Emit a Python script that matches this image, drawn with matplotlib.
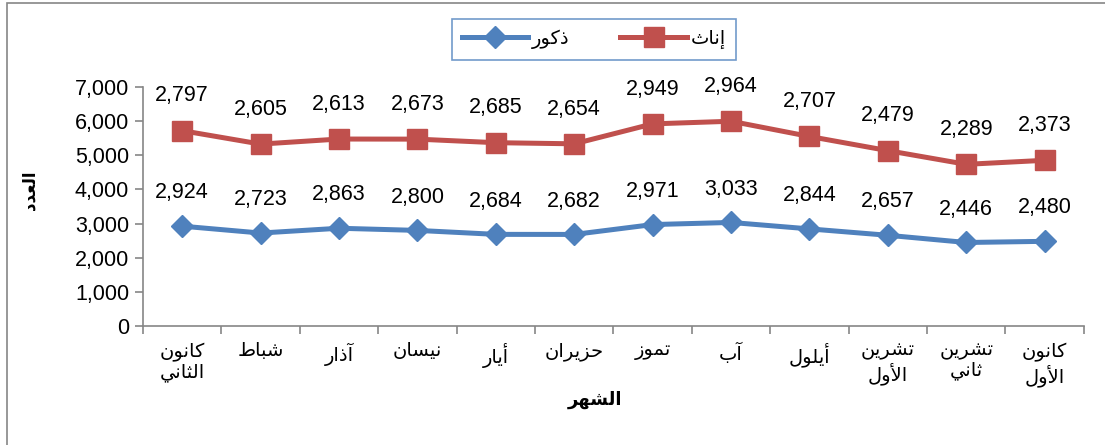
import matplotlib
matplotlib.use('Agg')
import matplotlib.pyplot as plt
from matplotlib.patches import Rectangle

# data
months = ['كانون\nالثاني', 'شباط', 'آذار', 'نيسان', 'أيار', 'حزيران',
          'تموز', 'آب', 'أيلول', 'تشرين\nالأول', 'تشرين\nثاني', 'كانون\nالأول']
males = [2924, 2723, 2863, 2800, 2684, 2682, 2971, 3033, 2844, 2657, 2446, 2480]
females = [2797, 2605, 2613, 2673, 2685, 2654, 2949, 2964, 2707, 2479, 2289, 2373]
male_name = 'ذكور'
female_name = 'إناث'
x_title = 'الشهر'
y_title = 'العدد'
y_ticks = [0, 1000, 2000, 3000, 4000, 5000, 6000, 7000]

# matplotlib has no Arabic shaping, so pick the contextual glyph forms
# by hand and reverse each line for display
FORMS = {
    'ا': (0xFE8D, 0xFE8E), 'آ': (0xFE81, 0xFE82), 'أ': (0xFE83, 0xFE84),
    'إ': (0xFE87, 0xFE88), 'د': (0xFEA9, 0xFEAA), 'ذ': (0xFEAB, 0xFEAC),
    'ر': (0xFEAD, 0xFEAE), 'ز': (0xFEAF, 0xFEB0), 'و': (0xFEED, 0xFEEE),
    'ب': (0xFE8F, 0xFE90, 0xFE91, 0xFE92), 'ت': (0xFE95, 0xFE96, 0xFE97, 0xFE98),
    'ث': (0xFE99, 0xFE9A, 0xFE9B, 0xFE9C), 'ح': (0xFEA1, 0xFEA2, 0xFEA3, 0xFEA4),
    'س': (0xFEB1, 0xFEB2, 0xFEB3, 0xFEB4), 'ش': (0xFEB5, 0xFEB6, 0xFEB7, 0xFEB8),
    'ط': (0xFEC1, 0xFEC2, 0xFEC3, 0xFEC4), 'ع': (0xFEC9, 0xFECA, 0xFECB, 0xFECC),
    'ف': (0xFED1, 0xFED2, 0xFED3, 0xFED4), 'ك': (0xFED9, 0xFEDA, 0xFEDB, 0xFEDC),
    'ل': (0xFEDD, 0xFEDE, 0xFEDF, 0xFEE0), 'م': (0xFEE1, 0xFEE2, 0xFEE3, 0xFEE4),
    'ن': (0xFEE5, 0xFEE6, 0xFEE7, 0xFEE8), 'ه': (0xFEE9, 0xFEEA, 0xFEEB, 0xFEEC),
    'ي': (0xFEF1, 0xFEF2, 0xFEF3, 0xFEF4),
}
LAM_ALEF = {'ا': (0xFEFB, 0xFEFC), 'أ': (0xFEF7, 0xFEF8),
            'آ': (0xFEF5, 0xFEF6), 'إ': (0xFEF9, 0xFEFA)}


def shape_line(s):
    out = []
    i = 0
    while i < len(s):
        c = s[i]
        if c not in FORMS:
            out.append(c)
            i += 1
            continue
        prev = s[i - 1] if i > 0 else ''
        joins_prev = prev in FORMS and len(FORMS[prev]) == 4
        if c == 'ل' and i + 1 < len(s) and s[i + 1] in LAM_ALEF:
            out.append(chr(LAM_ALEF[s[i + 1]][1 if joins_prev else 0]))
            i += 2
            continue
        nxt = s[i + 1] if i + 1 < len(s) else ''
        joins_next = len(FORMS[c]) == 4 and nxt in FORMS
        f = FORMS[c]
        if joins_prev and joins_next:
            g = f[3]
        elif joins_prev:
            g = f[1]
        elif joins_next:
            g = f[2]
        else:
            g = f[0]
        out.append(chr(g))
        i += 1
    return ''.join(out)[::-1]


def ar(s):
    return '\n'.join(shape_line(line) for line in s.split('\n'))


plt.rcParams['font.family'] = ['Liberation Sans', 'DejaVu Sans']

blue = '#4F81BD'
red = '#C0504D'
grey = '#868686'

fig = plt.figure(figsize=(11.05, 4.45), dpi=100)
ax = fig.add_axes([0.1294, 0.2674, 0.8515, 0.5371])

xs = list(range(len(months)))
female_top = [m + f for m, f in zip(males, females)]

ax.plot(xs, males, color=blue, lw=3.6, marker='D', ms=11, label=ar(male_name))
ax.plot(xs, female_top, color=red, lw=3.6, marker='s', ms=14, label=ar(female_name))

for x, m, top, f in zip(xs, males, female_top, females):
    ax.annotate(f'{m:,}', (x, m), xytext=(0, 24), textcoords='offset points',
                ha='center', va='center', fontsize=15.5)
    ax.annotate(f'{f:,}', (x, top), xytext=(0, 25), textcoords='offset points',
                ha='center', va='center', fontsize=15.5)

ax.set_xlim(-0.5, len(months) - 0.5)
ax.set_ylim(0, 7000)
ax.set_yticks(y_ticks)
ax.set_yticklabels([f'{v:,}' for v in y_ticks], fontsize=15.5)
ax.set_xticks(xs)
ax.set_xticklabels([ar(m) for m in months], fontsize=14, linespacing=1.15, va='top')
ax.set_xticks([x - 0.5 for x in xs] + [len(months) - 0.5], minor=True)
ax.tick_params(axis='x', which='major', length=0, pad=12)
ax.tick_params(axis='x', which='minor', length=6, color=grey, width=1.2)
ax.tick_params(axis='y', length=6, color=grey, width=1.2, pad=4)

for side in ['top', 'right']:
    ax.spines[side].set_visible(False)
for side in ['left', 'bottom']:
    ax.spines[side].set_color(grey)
    ax.spines[side].set_linewidth(1.2)

fig.text(595 / 1105, 1 - 400 / 445, ar(x_title), ha='center', va='center',
         fontsize=13, fontweight='bold')
fig.text(30 / 1105, 1 - 190 / 445, ar(y_title), ha='center', va='center',
         rotation=90, fontsize=12, fontweight='bold')

leg = fig.legend(loc='center', bbox_to_anchor=(594 / 1105, 1 - 39.5 / 445),
                 ncol=2, fontsize=14, handlelength=3.4, columnspacing=2.6,
                 handletextpad=0.2, fancybox=False, borderpad=0.55, borderaxespad=0)
leg.get_frame().set_edgecolor(blue)
leg.get_frame().set_linewidth(1.2)

# outer chart border (left and top edges visible in the reference)
fig.patches.append(Rectangle((7 / 1105, -0.1), 1.2, 1.1 - 3 / 445, transform=fig.transFigure,
                             fill=False, edgecolor=grey, lw=1.2))

fig.savefig('out.png', dpi=100)
